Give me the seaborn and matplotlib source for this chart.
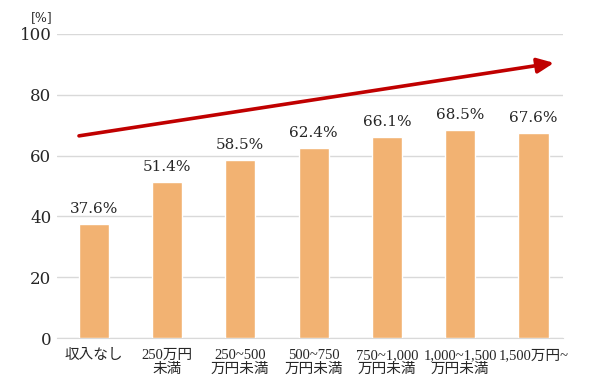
import pandas as pd
import matplotlib.pyplot as plt
import seaborn as sns

# income brackets and share (%)
categories = ['収入なし', '250万円\n未満', '250~500\n万円未満', '500~750\n万円未満',
              '750~1,000\n万円未満', '1,000~1,500\n万円未満', '1,500万円~']
values = [37.6, 51.4, 58.5, 62.4, 66.1, 68.5, 67.6]
yticks = [0, 20, 40, 60, 80, 100]

# trend arrow (data coords)
arrow_start = (-0.2, 66.5)
arrow_end = (6.28, 90.5)

df = pd.DataFrame({'cat': categories, 'val': values})

sns.set_style('white')
plt.rcParams['font.family'] = ['DejaVu Serif', 'Noto Sans CJK JP']

fig = plt.figure(figsize=(6, 3.82), dpi=100)
ax = fig.add_axes([0.095, 0.115, 0.843, 0.796])

sns.barplot(data=df, x='cat', y='val', color='#F2B272', saturation=1,
            width=0.41, ax=ax, zorder=3)

ax.set_ylim(0, 100)
ax.set_xlim(-0.5, len(categories) - 0.6)
ax.set_yticks(yticks)
ax.set_yticklabels([str(t) for t in yticks], fontsize=12)
ax.grid(axis='y', color='#d9d9d9', linewidth=1, zorder=0)
ax.tick_params(axis='both', length=0)
ax.tick_params(axis='y', pad=4)
ax.tick_params(axis='x', pad=8)
for lab in ax.get_xticklabels():
    lab.set_fontsize(10.5)
    lab.set_family(['Liberation Serif', 'Noto Sans CJK JP'])
    lab.set_linespacing(1.05)
ax.set_xlabel('')
ax.set_ylabel('')
for s in ['top', 'right', 'left']:
    ax.spines[s].set_visible(False)
ax.spines['bottom'].set_color('#d9d9d9')

for i, v in enumerate(values):
    ax.text(i, v + 2.6, f'{v:.1f}%', ha='center', va='bottom', fontsize=11)

ax.annotate('', xy=arrow_end, xytext=arrow_start,
            arrowprops=dict(arrowstyle='-|>,head_length=1.0,head_width=0.45',
                            color='#C00000', lw=2.6, shrinkA=0, shrinkB=0),
            annotation_clip=False, zorder=4)

fig.text(0.088, 0.955, '[%]', ha='right', va='center', fontsize=9)

fig.savefig('out.png', dpi=100)
